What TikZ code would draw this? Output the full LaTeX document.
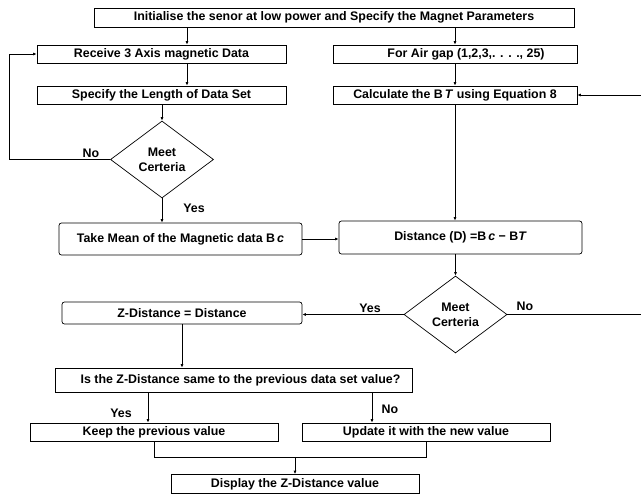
\documentclass[tikz,border=0pt]{standalone}
\usepackage{fontspec}
\setmainfont{Liberation Sans}
\usetikzlibrary{arrows.meta,positioning,shapes.geometric}
\tikzset{
  box/.style={rectangle,draw,inner sep=0pt,minimum height=18pt,font=\fontsize{12.4}{14}\selectfont\bfseries},
  rbox/.style={box,rounded corners=2.5pt},
  decision/.style={diamond,draw,inner sep=0pt,minimum width=103pt,minimum height=77pt,align=center,font=\fontsize{12.4}{15}\selectfont\bfseries},
  lbl/.style={inner sep=0pt,font=\fontsize{12.4}{14}\selectfont\bfseries},
  flow/.style={-{Latex[length=3.5pt,width=3pt]}}
}

\begin{document}
\begin{tikzpicture}[x=1pt,y=-1pt,line width=0.7pt]
    \useasboundingbox (0,0) rectangle (641,498);
    % left column
    \node (init) at (334,17.5) [box,minimum width=480pt,minimum height=19pt] {Initialise the senor at low power and Specify the Magnet Parameters};
    \node (recv) at (161.5,54) [box,minimum width=249pt] {Receive 3 Axis magnetic Data};
    \node (spec) at (161.5,95) [box,minimum width=249pt] {Specify the Length of Data Set};
    \node (meet1) at (162,159.5) [decision] {Meet\\Certeria};
    \node (mean) at (180.5,239) [rbox,minimum width=243pt,minimum height=32pt] {Take Mean of the Magnetic data B\,\textit{c}};
    % right column
    \node (air) at (455,54) [box,minimum width=244pt] {\hspace*{22pt}For Air gap (1,2,3,. . . ., 25)};
    \node (calc) at (455,95) [box,minimum width=244pt] {Calculate the B\,\textit{T} using Equation 8};
    \node (dist) at (460.5,237.5) [rbox,minimum width=243pt,minimum height=33pt] {Distance (D) =B\,\textit{c} − B\textit{T}};
    \node (meet2) at (455.5,314.5) [decision] {Meet\\Certeria};
    % output part
    \node (zdist) at (182,313) [rbox,minimum width=240pt,minimum height=22pt] {Z-Distance = Distance};
    \node (same) at (233.5,380) [box,minimum width=357pt,minimum height=24pt] {\hspace*{14pt}Is the Z-Distance same to the previous data set value?};
    \node (keep) at (154,432) [box,minimum width=248pt] {Keep the previous value};
    \node (update) at (426,432) [box,minimum width=248pt] {Update it with the new value};
    \node (show) at (295,484) [box,minimum width=248pt,minimum height=19pt] {Display the Z-Distance value};
    % labels
    \node (no1) at (91,153) [lbl] {No};
    \node (yes1) at (194,208) [lbl] {Yes};
    \node (yes2) at (370,308) [lbl] {Yes};
    \node (no2) at (525,306) [lbl] {No};
    \node (yes3) at (121,413) [lbl] {Yes};
    \node (no3) at (390,409) [lbl] {No};
    % helper points
    \coordinate (recvin) at ([xshift=25.5pt]recv.north);
    \coordinate (keepin) at ([xshift=-6pt]keep.north);
    \coordinate (updin) at ([xshift=-54pt]update.north);
    \coordinate (lft) at (9,0);
    \coordinate (rgt) at (645,0);
    \coordinate (join) at ([yshift=-16pt]keep.south);
    % connectors
    \path [draw,flow] (recvin |- init.south) -- (recvin);
    \path [draw,flow] (recv.south -| recvin) -- (spec.north -| recvin);
    \path [draw,flow] (spec.south -| meet1.north) -- (meet1.north);
    \path [draw,flow] (meet1.west) -- (meet1.west -| lft) |- (recv.west);
    \path [draw,flow] (meet1.south) -- (meet1.south |- mean.north);
    \path [draw,flow] (init.south -| air.north) -- (air.north);
    \path [draw,flow] (air.south) -- (calc.north);
    \path [draw,flow] (calc.south) -- (calc.south |- dist.north);
    \path [draw,flow] (mean.east) -- (mean.east -| dist.west);
    \path [draw,flow] (dist.south -| meet2.north) -- (meet2.north);
    \path [draw,flow] (meet2.west) -- (meet2.west -| zdist.east);
    \path [draw,flow] (meet2.east) -- (meet2.east -| rgt) |- (calc.east);
    \path [draw,flow] (zdist.south) -- (zdist.south |- same.north);
    \path [draw,flow] (same.south -| keepin) -- (keepin);
    \path [draw,flow] (same.south -| updin) -- (updin);
    \path [draw] (keep.south) -- (join) -| (update.south);
    \path [draw,flow] (join -| show.north) -- (show.north);
\end{tikzpicture}
\end{document}
